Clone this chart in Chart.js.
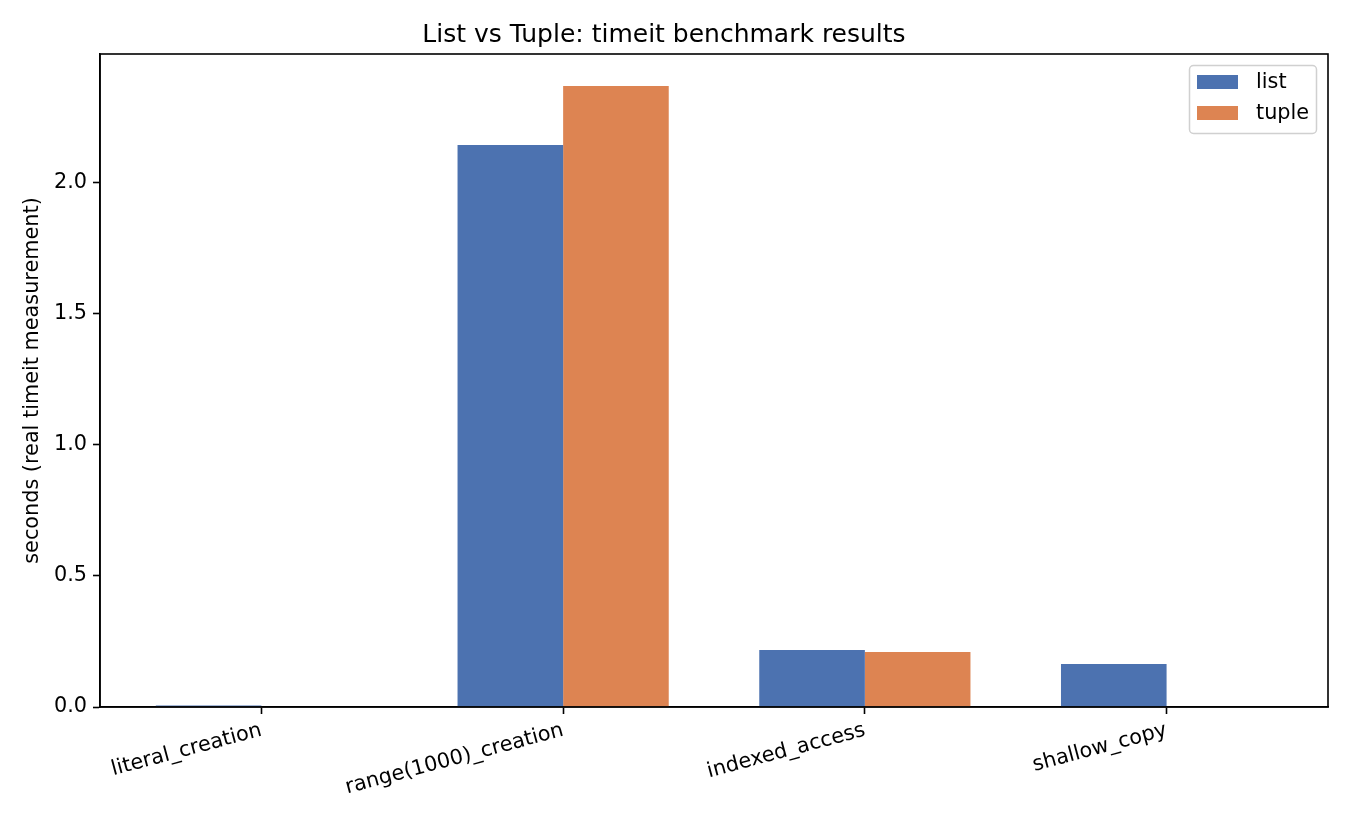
<!DOCTYPE html>
<html>
<head>
<meta charset="utf-8">
<script src="https://cdn.jsdelivr.net/npm/chart.js@4/dist/chart.umd.min.js"></script>
<style>
  html, body { margin: 0; padding: 0; background: #fff; }
  #wrap { width: 1350px; height: 825px; }
</style>
</head>
<body>
<div id="wrap"><canvas id="mycanvas" width="1350" height="825"></canvas></div>
<script>
// benchmark data
var categories = ['literal_creation', 'range(1000)_creation', 'indexed_access', 'shallow_copy'];
var listSeconds = [0.006, 2.145, 0.218, 0.164];
var tupleSeconds = [0.0, 2.370, 0.210, 0.0];
var yTicks = [0.0, 0.5, 1.0, 1.5, 2.0];

var FONT = "'DejaVu Sans', sans-serif";
Chart.defaults.font.family = FONT;
Chart.defaults.color = '#000';

function toPoints(arr) {
  return arr.map(function(v, i) { return { x: i, y: v }; });
}

// axes frame on all four sides
var framePlugin = {
  id: 'frame',
  afterDatasetsDraw: function(chart) {
    var a = chart.chartArea, c = chart.ctx;
    c.save();
    c.strokeStyle = '#000';
    c.lineWidth = 1.6;
    c.strokeRect(a.left, a.top, a.right - a.left, a.bottom - a.top);
    c.restore();
  }
};

// matplotlib-ish legend box in the upper right
var legendBox = {
  id: 'legendBox',
  afterDraw: function(chart) {
    var c = chart.ctx;
    var a = chart.chartArea;
    var x = a.right - 139, y = a.top + 11, w = 127, h = 68;
    c.save();
    c.fillStyle = 'rgba(255,255,255,0.8)';
    c.strokeStyle = '#d0d0d0';
    c.lineWidth = 1.5;
    c.beginPath();
    c.roundRect(x + 0.5, y + 0.5, w, h, 4);
    c.fill();
    c.stroke();
    c.font = '20.8px ' + FONT;
    c.textBaseline = 'middle';
    chart.data.datasets.forEach(function(ds, i) {
      var ry = y + 17 + i * 31;
      c.fillStyle = ds.backgroundColor;
      c.fillRect(x + 8, ry - 7, 41, 14);
      c.fillStyle = '#000';
      c.fillText(ds.label, x + 67, ry + 1);
    });
    c.restore();
  }
};

var chartdata = {
  datasets: [
    {
      label: 'list',
      backgroundColor: '#4c72b0',
      data: toPoints(listSeconds)
    },
    {
      label: 'tuple',
      backgroundColor: '#dd8452',
      data: toPoints(tupleSeconds)
    }
  ]
};

var ctx = document.getElementById('mycanvas');

var barGraph = new Chart(ctx, {
  type: 'bar',
  data: chartdata,
  plugins: [framePlugin, legendBox],
  options: {
    responsive: false,
    animation: false,
    devicePixelRatio: 1,
    layout: { padding: { left: 0, right: 22, top: 0, bottom: 0 } },
    datasets: { bar: { categoryPercentage: 0.7, barPercentage: 1.0 } },
    plugins: {
      legend: { display: false },
      tooltip: { enabled: false },
      title: {
        display: true,
        text: 'List vs Tuple: timeit benchmark results',
        font: { size: 25, weight: 'normal' },
        color: '#000',
        padding: { top: 20, bottom: 4 }
      }
    },
    scales: {
      x: {
        type: 'linear',
        min: -0.535,
        max: 3.535,
        offset: false,
        grid: { display: true, offset: false, drawOnChartArea: false, tickLength: 7, tickWidth: 1.6, color: '#000' },
        border: { display: true, color: '#000', width: 1.6 },
        ticks: {
          font: { size: 20.8 },
          color: '#000',
          minRotation: 15,
          maxRotation: 15,
          padding: 4,
          callback: function(v) { return categories[v]; }
        },
        afterBuildTicks: function(scale) {
          scale.ticks = categories.map(function(c, i) { return { value: i }; });
        },
        afterFit: function(scale) { scale.height = 825 - 707; }
      },
      y: {
        min: 0,
        max: 2.492,
        grid: { display: true, drawOnChartArea: false, tickLength: 7, tickWidth: 1.6, color: '#000' },
        border: { display: true, color: '#000', width: 1.6 },
        ticks: {
          font: { size: 20.8 },
          color: '#000',
          padding: 6,
          callback: function(v) { return Number(v).toFixed(1); }
        },
        afterBuildTicks: function(scale) {
          scale.ticks = yTicks.map(function(v) { return { value: v }; });
        },
        title: {
          display: true,
          text: 'seconds (real timeit measurement)',
          font: { size: 20.8 },
          color: '#000',
          padding: { top: 20, bottom: 0 }
        },
        afterFit: function(scale) { scale.width = 100; }
      }
    }
  }
});
</script>
</body>
</html>
